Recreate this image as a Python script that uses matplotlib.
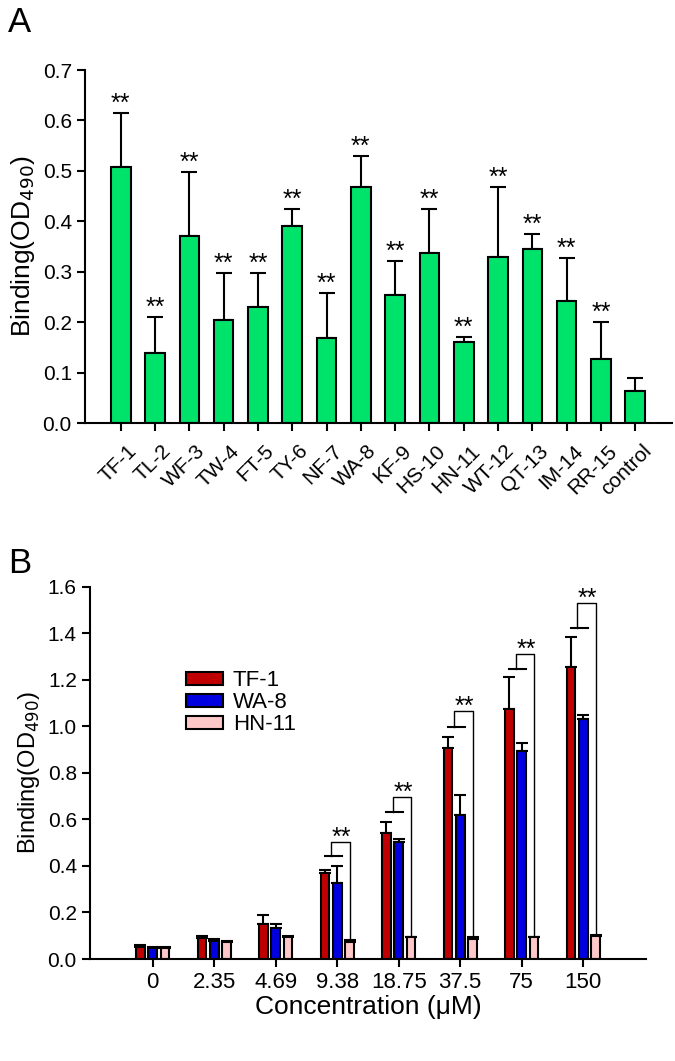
import matplotlib
matplotlib.use("Agg")
import matplotlib.pyplot as plt
import matplotlib.transforms as mtransforms
import numpy as np

plt.rcParams['font.family'] = ['Liberation Sans', 'DejaVu Sans']

# Panel A data
peptides = ["TF-1", "TL-2", "WF-3", "TW-4", "FT-5", "TY-6", "NF-7", "WA-8",
            "KF-9", "HS-10", "HN-11", "WT-12", "QT-13", "IM-14", "RR-15", "control"]
binding_a = [0.508, 0.139, 0.371, 0.204, 0.230, 0.390, 0.169, 0.469,
             0.254, 0.337, 0.161, 0.330, 0.346, 0.241, 0.127, 0.064]
err_a = [0.107, 0.072, 0.127, 0.093, 0.067, 0.034, 0.089, 0.060,
         0.068, 0.087, 0.010, 0.138, 0.029, 0.086, 0.073, 0.025]
signif_a = ["**"] * 15 + [""]

# Panel B data
concs = ["0", "2.35", "4.69", "9.38", "18.75", "37.5", "75", "150"]
tf1 = [0.053, 0.089, 0.150, 0.371, 0.543, 0.907, 1.074, 1.254]
tf1_err = [0.007, 0.011, 0.040, 0.012, 0.047, 0.049, 0.139, 0.129]
wa8 = [0.046, 0.079, 0.135, 0.325, 0.504, 0.619, 0.895, 1.030]
wa8_err = [0.007, 0.006, 0.014, 0.075, 0.010, 0.086, 0.035, 0.019]
hn11 = [0.046, 0.074, 0.096, 0.075, 0.093, 0.085, 0.093, 0.100]
hn11_err = [0.007, 0.002, 0.003, 0.007, 0.003, 0.008, 0.003, 0.003]
# significance brackets (group index, marker line height, bracket top)
brk_groups = [3, 4, 5, 6, 7]
brk_low = [0.443, 0.630, 0.997, 1.246, 1.424]
brk_top = [0.504, 0.698, 1.064, 1.311, 1.529]

fig = plt.figure(figsize=(6.75, 10.61), dpi=100)

# ---------- Panel A ----------
axA = fig.add_axes([0.126, 0.6013, 0.870, 0.3327])
x = np.arange(len(peptides))
axA.bar(x, binding_a, width=0.57, color="#00e36a", edgecolor="black", linewidth=1.5, zorder=2)
axA.errorbar(x, binding_a, yerr=[np.zeros(len(err_a)), err_a], fmt="none",
             ecolor="black", elinewidth=1.5, capsize=5.5, capthick=1.5, zorder=1)
for xi, v, e, s in zip(x, binding_a, err_a, signif_a):
    if s:
        axA.text(xi, v + e + 0.004, s, ha="center", va="baseline", fontsize=18)
axA.set_xlim(-1.04, 16.08)
axA.set_ylim(0, 0.7)
axA.set_yticks(np.arange(0, 0.71, 0.1))
axA.set_yticklabels(["%.1f" % t for t in np.arange(0, 0.71, 0.1)], fontsize=15)
axA.set_xticks(x)
axA.set_xticklabels([])
# rotated peptide names, nudged right of their ticks like the original
lab_tr = axA.get_xaxis_transform() + mtransforms.ScaledTranslation(0.13, -0.25, fig.dpi_scale_trans)
for xi, name in zip(x, peptides):
    axA.text(xi, 0, name, transform=lab_tr, rotation=45, ha="right", va="center",
             rotation_mode="anchor", fontsize=15)
axA.set_ylabel("Binding(OD$_{490}$)", fontsize=19, labelpad=4)
for sp in ["top", "right"]:
    axA.spines[sp].set_visible(False)
for sp in ["left", "bottom"]:
    axA.spines[sp].set_linewidth(1.5)
axA.tick_params(width=1.5, length=6)
fig.text(0.012, 0.994, "A", fontsize=25, va="top", ha="left")

# ---------- Panel B ----------
axB = fig.add_axes([0.1333, 0.0961, 0.8237, 0.3509])
g = np.arange(len(concs))
w = 0.14
off = 0.2
axB.bar(g - off, tf1, width=w, color="#c00000", edgecolor="black", linewidth=1.5, label="TF-1", zorder=2)
axB.bar(g, wa8, width=w, color="#0000e0", edgecolor="black", linewidth=1.5, label="WA-8", zorder=2)
axB.bar(g + off, hn11, width=w, color="#ffc8c8", edgecolor="black", linewidth=1.5, label="HN-11", zorder=2)
for xs, vals, errs in [(g - off, tf1, tf1_err), (g, wa8, wa8_err), (g + off, hn11, hn11_err)]:
    axB.errorbar(xs, vals, yerr=[np.zeros(len(errs)), errs], fmt="none",
                 ecolor="black", elinewidth=1.5, capsize=4, capthick=1.5, zorder=1)

for gi, lo, top in zip(brk_groups, brk_low, brk_top):
    axB.plot([gi - off, gi + 0.07], [lo, lo], color="black", lw=1.5)
    pink_top = hn11[gi] + hn11_err[gi]
    axB.plot([gi - 0.1, gi - 0.1, gi + off, gi + off], [lo, top, top, pink_top + 0.005],
             color="black", lw=1)
    axB.text(gi + 0.07, top - 0.012, "**", ha="center", va="baseline", fontsize=18)

axB.set_xlim(-1.02, 8.02)
axB.set_ylim(0, 1.6)
axB.set_yticks(np.arange(0, 1.61, 0.2))
axB.set_yticklabels(["%.1f" % t for t in np.arange(0, 1.61, 0.2)], fontsize=15)
axB.set_xticks(g)
axB.set_xticklabels(concs, fontsize=16)
axB.set_ylabel("Binding(OD$_{490}$)", fontsize=17, labelpad=4)
axB.set_xlabel("Concentration (\u03bcM)", fontsize=19, labelpad=1)
for sp in ["top", "right"]:
    axB.spines[sp].set_visible(False)
for sp in ["left", "bottom"]:
    axB.spines[sp].set_linewidth(1.5)
axB.tick_params(width=1.5, length=6)
axB.legend(loc="upper left", bbox_to_anchor=(0.157, 0.80), frameon=False, fontsize=16,
           handlelength=1.65, handleheight=0.55, handletextpad=0.45, labelspacing=0.05,
           borderaxespad=0)
fig.text(0.012, 0.484, "B", fontsize=25, va="top", ha="left")

fig.savefig("out.png", dpi=100)
